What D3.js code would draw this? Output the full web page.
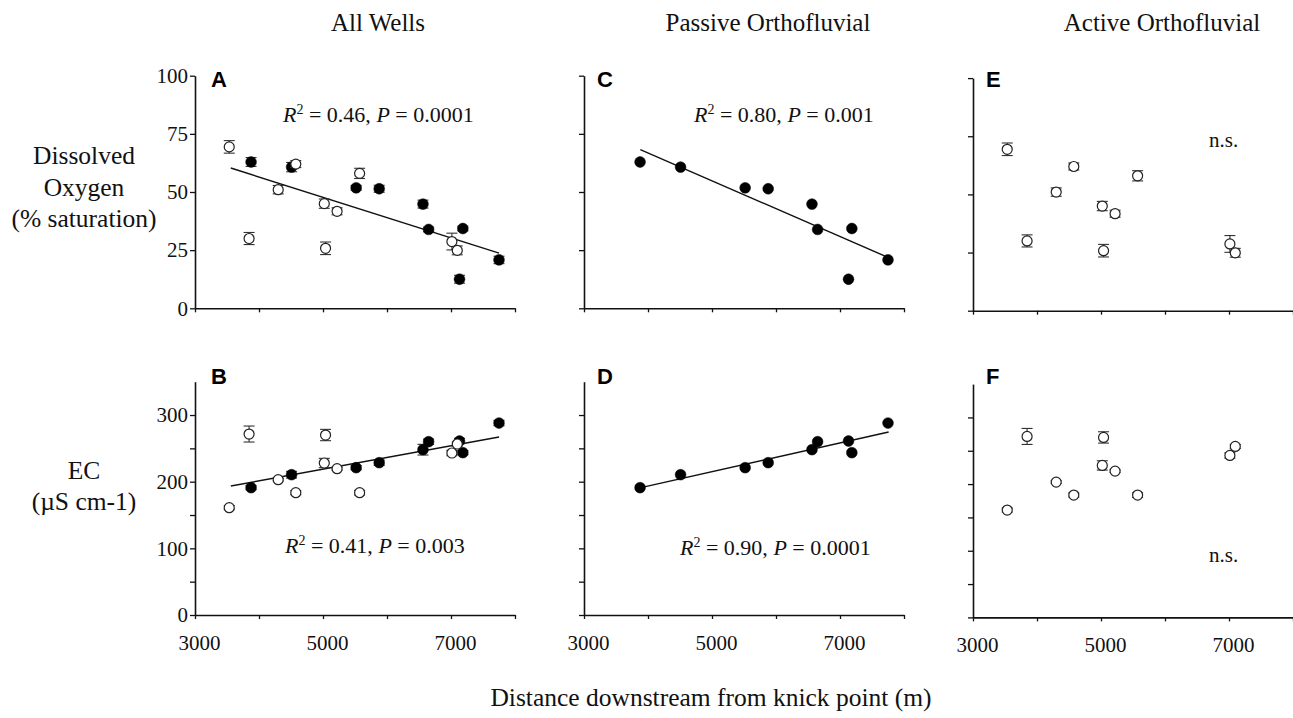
<!DOCTYPE html>
<html><head><meta charset="utf-8">
<script src="https://cdn.jsdelivr.net/npm/d3@7"></script>
<style>body{margin:0;background:#fff} svg{display:block}
.serif{font-family:"Liberation Serif","Tinos","Times New Roman","DejaVu Serif",serif}
.sans{font-family:"Liberation Sans",Arial,sans-serif}</style>
</head><body><svg id="c" width="1293" height="718"></svg>
<script>
// ---- Data ----
// Active orthofluvial wells (open circles)
const activeDist  = [3535, 3845, 4300, 4575, 5020, 5040, 5220, 5572, 7014, 7098];
const activeDO    = [69.4, 30.0, 51.0, 62.0, 45.0, 25.8, 41.7, 58.0, 28.7, 24.9];
const activeDOErr = [2.7, 2.6, 1.8, 1.5, 2.0, 2.7, 1.5, 2.2, 3.6, 1.9];
const activeEC    = [161, 271.5, 203, 183.5, 228, 270, 219.5, 183.5, 243, 256.5];
const activeECErr = [3, 12, 2, 3, 7, 8.5, 2, 3.5, 4, 3];
// Passive orthofluvial wells (filled circles)
const passiveDist  = [3876, 4509, 5518, 5878, 6562, 6650, 7133, 7185, 7750];
const passiveDO    = [62.9, 60.7, 51.8, 51.4, 44.8, 33.9, 12.5, 34.3, 20.8];
const passiveDOErr = [1.9, 2.0, 1.0, 1.5, 1.7, 1.0, 1.7, 1.0, 1.6];
const passiveEC    = [191, 210.5, 221, 228.5, 248, 260, 261, 243.5, 288];
const passiveECErr = [3, 5, 3, 4, 8, 4, 4, 3, 4];
// Regression lines (end points, data units)
const fitAllDO     = [[3560, 60.3], [7751, 23.7]];
const fitAllEC     = [[3560, 193.5], [7751, 267]];
const fitPassiveDO = [[3880, 68.2], [7740, 22.0]];
const fitPassiveEC = [[3890, 191], [7760, 274.5]];
// Labels / ticks
const columnTitles = ["All Wells", "Passive Orthofluvial", "Active Orthofluvial"];
const panelLetters = ["A", "B", "C", "D", "E", "F"];
const xTickValues  = [3000, 4000, 5000, 6000, 7000, 8000];
const xTickLabels  = [3000, 5000, 7000];
const doTicks      = [0, 25, 50, 75, 100];
const ecTicks      = [0, 50, 100, 150, 200, 250, 300];
const ecTickLabels = [0, 100, 200, 300];
const statLabels   = [["0.46", "0.0001"], ["0.41", "0.003"], ["0.80", "0.001"], ["0.90", "0.0001"]];

// ---- Build ----
const svg = d3.select("#c");

const mk = (d, v, e) => d.map((x, i) => ({x, y: v[i], e: e[i]}));
const active = {DO: mk(activeDist, activeDO, activeDOErr), EC: mk(activeDist, activeEC, activeECErr)};
const passive = {DO: mk(passiveDist, passiveDO, passiveDOErr), EC: mk(passiveDist, passiveEC, passiveECErr)};

const cols = [{left: 195, dy: 0}, {left: 584, dy: 0}, {left: 973, dy: 2.4}];
const rows = [
  {v: "DO", top: 75.7, bottom: 308.3, domain: [0, 100], ticks: doTicks, labels: doTicks},
  {v: "EC", top: 381.7, bottom: 615, domain: [0, 350], ticks: ecTicks, labels: ecTickLabels}
];

cols.forEach((col, ci) => {
  rows.forEach((row, ri) => {
    const g = svg.append("g");
    const x = d3.scaleLinear().domain([3000, 8000]).range([col.left, col.left + 320]);
    const y = d3.scaleLinear().domain(row.domain).range([row.bottom + col.dy, row.top + col.dy]);

    // axes
    const xa = g.append("g").attr("transform", `translate(0,${y(0)})`)
      .call(d3.axisBottom(x).tickValues(xTickValues).tickSize(4).tickSizeOuter(0)
        .tickFormat(d => (ri === 1 && xTickLabels.includes(d)) ? d : ""));
    const ya = g.append("g").attr("transform", `translate(${x(3000)},0)`)
      .call(d3.axisLeft(y).tickValues(row.ticks).tickSize(5).tickSizeOuter(0)
        .tickFormat(d => (ci === 0 && row.labels.includes(d)) ? d : ""));
    [xa, ya].forEach(a => {
      a.attr("font-family", null).attr("font-size", null);
      a.select(".domain").attr("stroke", "#111").attr("stroke-width", 1.6);
      a.selectAll(".tick line").attr("stroke", "#111").attr("stroke-width", 1.3);
      a.selectAll("text").attr("class", "serif").style("font-size", "21px").attr("fill", "#111");
    });
    xa.selectAll("text").attr("dy", null).attr("y", 0).attr("transform", "translate(4,35)");
    ya.selectAll("text").attr("x", -7);

    // regression line
    let fit = null;
    if (ci === 0) fit = row.v === "DO" ? fitAllDO : fitAllEC;
    if (ci === 1) fit = row.v === "DO" ? fitPassiveDO : fitPassiveEC;
    if (fit) {
      g.append("path").datum(fit)
        .attr("d", d3.line().x(d => x(d[0])).y(d => y(d[1])))
        .attr("stroke", "#111").attr("stroke-width", 1.4).attr("fill", "none");
    }

    const drawSet = (data, filled, withErr) => {
      if (withErr) {
        const eb = g.append("g").attr("stroke", "#333").attr("stroke-width", 1.1);
        data.forEach(d => {
          const cx = x(d.x), y0 = y(d.y - d.e), y1 = y(d.y + d.e);
          eb.append("line").attr("x1", cx).attr("x2", cx).attr("y1", y0).attr("y2", y1);
          eb.append("line").attr("x1", cx - 5.5).attr("x2", cx + 5.5).attr("y1", y0).attr("y2", y0);
          eb.append("line").attr("x1", cx - 5.5).attr("x2", cx + 5.5).attr("y1", y1).attr("y2", y1);
        });
      }
      g.append("g").selectAll("circle").data(data).join("circle")
        .attr("cx", d => x(d.x)).attr("cy", d => y(d.y))
        .attr("r", filled ? 5.4 : 5.0)
        .attr("fill", filled ? "#000" : "#fff")
        .attr("stroke", filled ? "#000" : "#222")
        .attr("stroke-width", filled ? 0.5 : 1.2);
    };
    if (ci === 0 || ci === 1) drawSet(passive[row.v], true, ci === 0);
    if (ci === 0 || ci === 2) drawSet(active[row.v], false, true);

    // panel letter
    g.append("text").attr("x", x(3000) + (ci === 0 ? 16 : 13)).attr("y", (ri === 0 ? 87 : 384))
      .attr("class", "sans").style("font-weight", "bold").style("font-size", "22px")
      .attr("fill", "#000").text(panelLetters[ci * 2 + ri]);

    // stats
    if (ci < 2) {
      const s = statLabels[ci * 2 + ri];
      const pos = [[283, 121.7], [285, 553], [694, 121.7], [680, 555]][ci * 2 + ri];
      const t = g.append("text").attr("x", pos[0]).attr("y", pos[1])
        .attr("class", "serif").style("font-size", "22px").attr("fill", "#111");
      t.append("tspan").style("font-style", "italic").text("R");
      t.append("tspan").style("font-size", "14px").attr("dy", -8).text("2");
      t.append("tspan").attr("dy", 8).text(` = ${s[0]}, `);
      t.append("tspan").style("font-style", "italic").text("P");
      t.append("tspan").text(` = ${s[1]}`);
    } else {
      g.append("text").attr("x", 1209).attr("y", ri === 0 ? 146.7 : 561.7)
        .attr("class", "serif").style("font-size", "21px").attr("fill", "#111").text("n.s.");
    }
  });
});

// column titles
[378, 768, 1162].forEach((cx, i) => {
  svg.append("text").attr("x", cx).attr("y", 31).attr("text-anchor", "middle")
    .attr("class", "serif").style("font-size", "25px").attr("fill", "#111").text(columnTitles[i]);
});

// row labels
const rl = [[["Dissolved", 164], ["Oxygen", 195.5], ["(% saturation)", 227]], [["EC", 478.5], ["(µS cm-1)", 510]]];
rl.forEach(lines => lines.forEach(([txt, yy]) => {
  svg.append("text").attr("x", 84).attr("y", yy).attr("text-anchor", "middle")
    .attr("class", "serif").style("font-size", "25.5px").attr("fill", "#111").text(txt);
}));

// x label
svg.append("text").attr("x", 711).attr("y", 706).attr("text-anchor", "middle")
  .attr("class", "serif").style("font-size", "25.5px").attr("fill", "#111")
  .text("Distance downstream from knick point (m)");
</script></body></html>
